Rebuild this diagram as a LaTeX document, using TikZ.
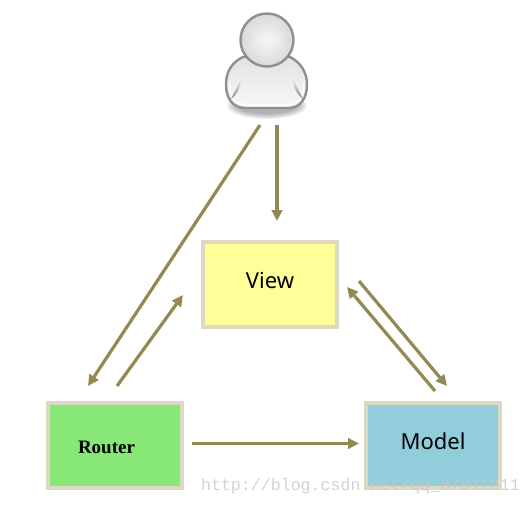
\documentclass[tikz,border=0pt]{standalone}
\usepackage{fontspec}
\setmainfont{Noto Sans}
\newfontfamily\routerfont{Liberation Serif}
\newfontfamily\markfont{Liberation Mono}
\usetikzlibrary{arrows.meta}
\definecolor{edgeline}{HTML}{938953}
\definecolor{boxline}{HTML}{DDD9C3}
\definecolor{routerfill}{HTML}{87E878}
\definecolor{viewfill}{HTML}{FFFF99}
\definecolor{modelfill}{HTML}{92CDDC}
\definecolor{iconline}{HTML}{8F8F8D}
\tikzset{
    mvcbox/.style={draw=boxline, line width=4pt, minimum width=134pt, minimum height=85pt, inner sep=0pt, font=\fontsize{22}{26}\selectfont},
    mvcarrow/.style={draw=edgeline, line width=3.2pt, -{Triangle[length=11pt,width=10.5pt]}}
}
\begin{document}
\begin{tikzpicture}[
    x=1pt,
    y=-1pt
]
    \useasboundingbox (0,0) rectangle (532,506);

    % shadow under the user
    \foreach \w/\h in {40/13, 38/12, 36/11, 34/10, 32/9, 30/8}
        \fill[black, opacity=0.06] (267,106) ellipse ({\w} and {\h});

    % user
    \draw[draw=iconline, line width=2.4pt, top color=black!11, bottom color=black!3]
        (243,57) .. controls (232,62) and (226,72) .. (226,84)
        .. controls (226,98) and (232,108) .. (246,108) -- (288,108)
        .. controls (301,108) and (307,98) .. (307,84)
        .. controls (307,72) and (300,62) .. (290,57) -- cycle;
    \draw[white, line width=1.2pt] (229.5,84) .. controls (229.5,96) and (235,105) .. (246,105) -- (288,105)
        .. controls (299,105) and (303.5,96) .. (303.5,84);
    \shade[top color=black!6, bottom color=black!45] (241,78) .. controls (238,86) and (234,92) .. (231,99) .. controls (237,95) and (241,87) .. (241,78);
    \shade[top color=black!6, bottom color=black!45] (293,78) .. controls (296,86) and (300,92) .. (303,99) .. controls (297,95) and (293,87) .. (293,78);
    \draw[draw=iconline, line width=2.4pt, inner color=black!3, outer color=black!15] (267,40) circle (26.5);

    \node[mvcbox, fill=viewfill] (view) at (270,284) {\raisebox{-4pt}[0pt][0pt]{View}};
    \node[mvcbox, fill=routerfill] (router) at (115,445.5) {\raisebox{-7.5pt}[0pt][0pt]{\routerfont\bfseries\fontsize{19}{22}\selectfont Router}\kern17pt};
    \node[mvcbox, fill=modelfill] (model) at (433,445.5) {\raisebox{-4pt}[0pt][0pt]{Model}};

    \coordinate (userleft) at (260,125);
    \coordinate (userright) at (277,125);
    \coordinate (viewtop) at (277,221);
    \coordinate (routertop) at (88,386);
    \coordinate (routerup) at (117,386);
    \coordinate (viewleft) at (183,295);
    \coordinate (viewout) at (359,281);
    \coordinate (modelin) at (447,386);
    \coordinate (modelout) at (435,391);
    \coordinate (viewin) at (347,287);
    \coordinate (routerright) at (192,443.5);
    \coordinate (modelleft) at (359,443.5);

    \draw[mvcarrow] (userleft) -- (routertop);
    \draw[mvcarrow] (userright) -- (viewtop);
    \draw[mvcarrow] (routerup) -- (viewleft);
    \draw[mvcarrow] (viewout) -- (modelin);
    \draw[mvcarrow] (modelout) -- (viewin);
    \draw[mvcarrow] (routerright) -- (modelleft);

    % blog address over the boxes
    \node[text=black!22, opacity=0.8, font=\markfont\fontsize{16.6}{18}\selectfont, inner sep=0pt] (blogmark) at (360.5,486) {http://blog.csdn.net/qq\_37811211};
\end{tikzpicture}
\end{document}
